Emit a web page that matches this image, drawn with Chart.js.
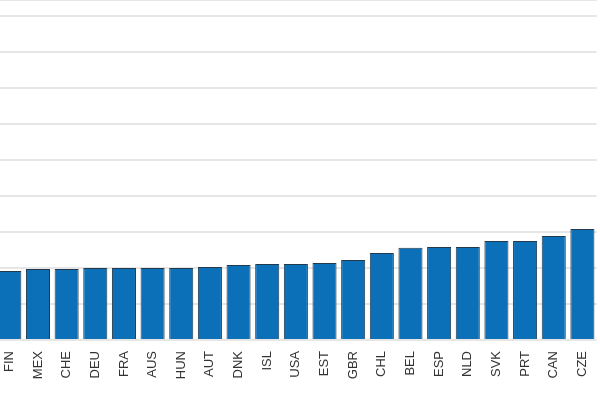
<!DOCTYPE html>
<html>
<head>
<meta charset="utf-8">
<script src="https://cdn.jsdelivr.net/npm/chart.js@4"></script>
<style>
  html, body { margin: 0; padding: 0; background: #fff; overflow: hidden; }
  #wrap { position: absolute; left: -5px; top: 0; width: 606px; height: 400px; }
</style>
</head>
<body>
<div id="wrap"><canvas id="myChart"></canvas></div>
<script>
const countries = ['FIN', 'MEX', 'CHE', 'DEU', 'FRA', 'AUS', 'HUN', 'AUT', 'DNK', 'ISL', 'USA',
  'EST', 'GBR', 'CHL', 'BEL', 'ESP', 'NLD', 'SVK', 'PRT', 'CAN', 'CZE']
const values = [1.92, 1.97, 1.97, 2.0, 2.0, 2.0, 2.0, 2.03, 2.08, 2.11, 2.11,
  2.14, 2.22, 2.42, 2.56, 2.58, 2.58, 2.75, 2.75, 2.89, 3.08]

const ctx = document.getElementById('myChart').getContext('2d')
const chart = new Chart(ctx, {
  type: 'bar',
  data: {
    labels: countries,
    datasets: [{
      data: values,
      backgroundColor: '#0b70b8',
      borderColor: '#233a4c',
      borderWidth: 1,
      barPercentage: 0.84,
      categoryPercentage: 1
    }]
  },
  options: {
    responsive: true,
    maintainAspectRatio: false,
    animation: false,
    layout: { padding: 0 },
    plugins: { legend: { display: false }, tooltip: { enabled: false } },
    scales: {
      x: {
        grid: { display: false },
        border: { display: false },
        ticks: { color: '#333', font: { family: 'Liberation Sans', size: 13 }, minRotation: 90, maxRotation: 90, padding: 3 },
        afterFit: s => { s.height = 60 }
      },
      y: {
        min: 0,
        max: 9.444,
        ticks: { display: false, stepSize: 1 },
        border: { display: false },
        grid: { color: '#e6e6e6', lineWidth: 2, drawTicks: false },
        afterFit: s => { s.width = 0 }
      }
    }
  }
})
</script>
</body>
</html>
